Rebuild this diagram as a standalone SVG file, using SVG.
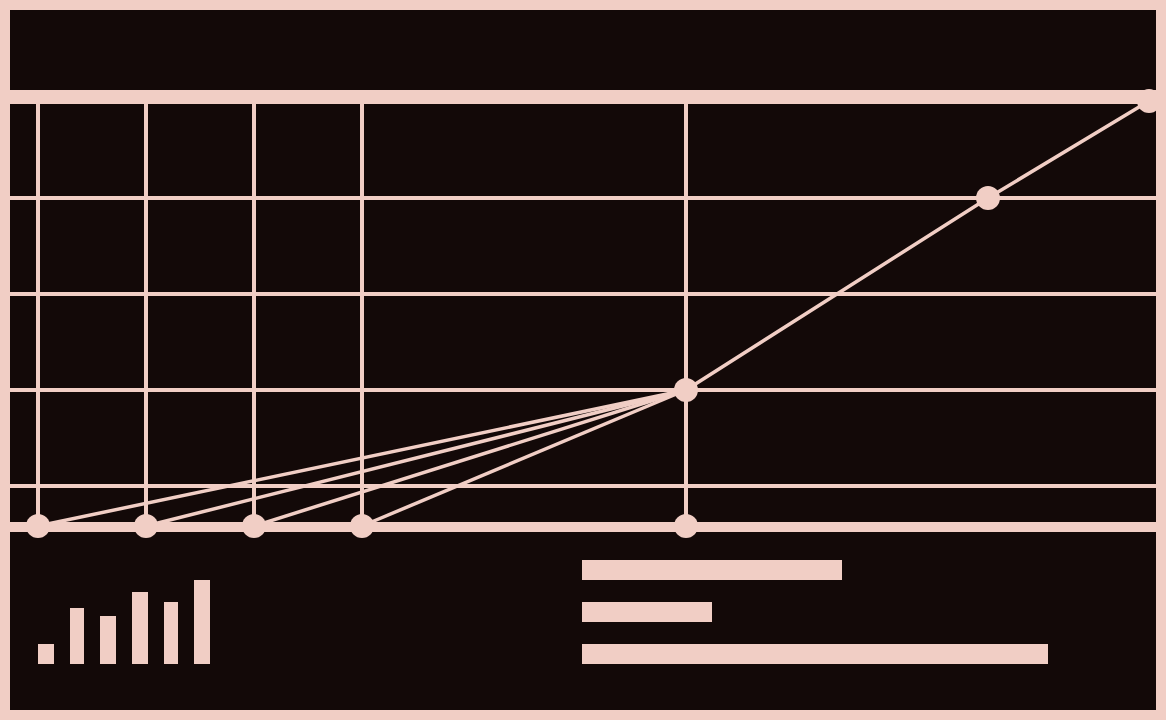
<svg xmlns="http://www.w3.org/2000/svg" width="1166" height="720" viewBox="0 0 1166 720">
<style>
.p{fill:#f1cec5}
.g{stroke:#f1cec5;stroke-width:4;fill:none}
.c{stroke:#f1cec5;stroke-width:3.5;fill:none}
.n{fill:#f1cec5}
</style>
<rect x="0" y="0" width="1166" height="720" fill="#f1cec5"/>
<rect x="10" y="10" width="1146" height="700" fill="#130908"/>
<g id="grid">
<rect class="p" x="10" y="90" width="1146" height="14"/>
<rect class="p" x="10" y="522" width="1146" height="10"/>
<line class="g" x1="10" y1="198" x2="1156" y2="198"/>
<line class="g" x1="10" y1="294" x2="1156" y2="294"/>
<line class="g" x1="10" y1="390" x2="1156" y2="390"/>
<line class="g" x1="10" y1="486" x2="1156" y2="486"/>
<line class="g" x1="38" y1="104" x2="38" y2="522"/>
<line class="g" x1="146" y1="104" x2="146" y2="522"/>
<line class="g" x1="254" y1="104" x2="254" y2="522"/>
<line class="g" x1="362" y1="104" x2="362" y2="522"/>
<line class="g" x1="686" y1="104" x2="686" y2="522"/>
</g>
<g id="connectors">
<line class="c" x1="38" y1="526" x2="686" y2="390"/>
<line class="c" x1="146" y1="526" x2="686" y2="390"/>
<line class="c" x1="254" y1="526" x2="686" y2="390"/>
<line class="c" x1="362" y1="526" x2="686" y2="390"/>
<polyline class="c" points="686,390 988,198 1149,101"/>
</g>
<g id="n1"><circle class="n" cx="38" cy="526" r="12"/></g>
<g id="n2"><circle class="n" cx="146" cy="526" r="12"/></g>
<g id="n3"><circle class="n" cx="254" cy="526" r="12"/></g>
<g id="n4"><circle class="n" cx="362" cy="526" r="12"/></g>
<g id="n5"><circle class="n" cx="686" cy="526" r="12"/></g>
<g id="n6"><circle class="n" cx="686" cy="390" r="12"/></g>
<g id="n7"><circle class="n" cx="988" cy="198" r="12"/></g>
<g id="n8"><circle class="n" cx="1149" cy="101" r="12"/></g>
<rect x="1156" y="0" width="10" height="720" fill="#f1cec5"/>
<g id="barchart">
<rect class="p" x="38" y="644" width="16" height="20"/>
<rect class="p" x="70" y="608" width="14" height="56"/>
<rect class="p" x="100" y="616" width="16" height="48"/>
<rect class="p" x="132" y="592" width="16" height="72"/>
<rect class="p" x="164" y="602" width="14" height="62"/>
<rect class="p" x="194" y="580" width="16" height="84"/>
</g>
<g id="hbars">
<rect class="p" x="582" y="560" width="260" height="20"/>
<rect class="p" x="582" y="602" width="130" height="20"/>
<rect class="p" x="582" y="644" width="466" height="20"/>
</g>
</svg>
